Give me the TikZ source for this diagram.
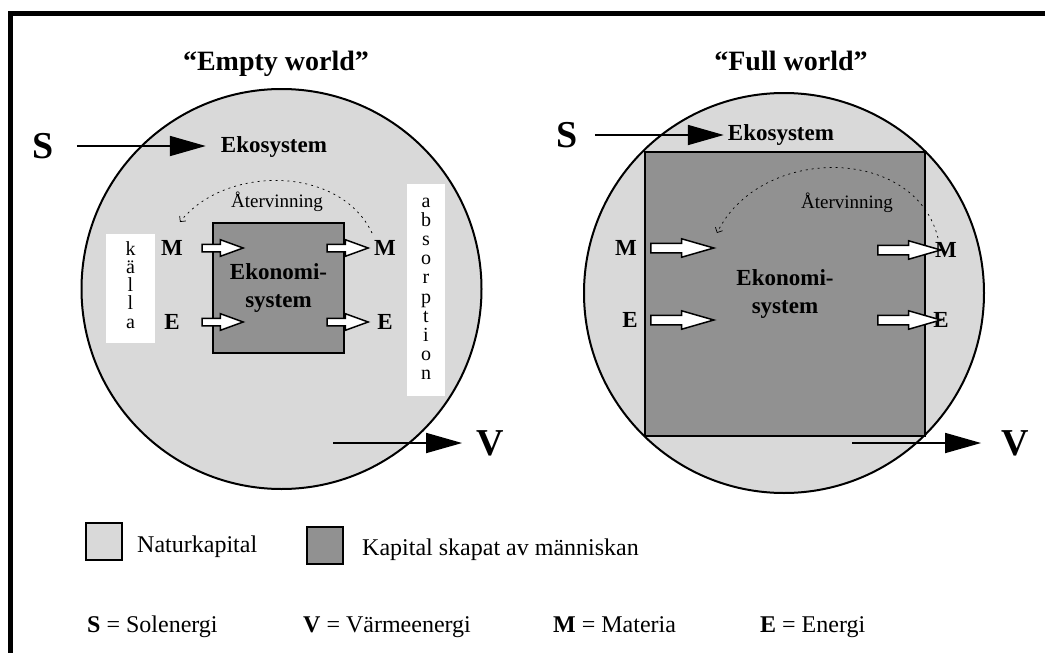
\documentclass[tikz,border=0pt]{standalone}
\usepackage{fontspec}
\setmainfont{Liberation Serif}
\usetikzlibrary{arrows.meta,shapes.arrows}

\definecolor{naturgray}{gray}{0.85}
\definecolor{kapitalgray}{gray}{0.57}

\tikzset{
  bigletter/.style={font=\fontsize{38}{38}\selectfont\bfseries, inner sep=0pt},
  boldlabel/.style={font=\fontsize{23}{28}\selectfont\bfseries, inner sep=0pt, align=center},
  worldtitle/.style={font=\fontsize{28}{30}\selectfont\bfseries, inner sep=0pt, anchor=base},
  plaintext/.style={font=\fontsize{24}{26}\selectfont, inner sep=0pt, anchor=base west},
  recyclelabel/.style={font=\fontsize{19}{20}\selectfont, inner sep=0pt, anchor=base},
  world/.style={circle, draw, line width=2pt, fill=naturgray, minimum size=400pt, inner sep=0pt},
  economy/.style={draw, line width=2pt, fill=kapitalgray, inner sep=0pt,
    font=\fontsize{23}{28}\selectfont\bfseries, align=center},
  flow/.style={line width=1.8pt, -{Triangle[length=36pt,width=20pt]}},
  hollow/.style={single arrow, draw, fill=white, line width=1.5pt, inner sep=3pt,
    single arrow head extend=4.5pt, single arrow tip angle=40, minimum height=41pt},
  hollowbig/.style={hollow, inner sep=4pt, single arrow tip angle=32, minimum height=63pt},
  recycle/.style={line width=0.7pt, dash pattern=on 2pt off 4pt,
    -{Straight Barb[length=4pt,width=8pt]}},
  letterbox/.style={fill=white, inner sep=0pt},
  boxletter/.style={font=\fontsize{20}{20}\selectfont, inner sep=0pt, anchor=base},
  legendbox/.style={draw, line width=2pt, minimum width=36pt, minimum height=37pt, inner sep=0pt},
}

\begin{document}
\begin{tikzpicture}[x=1pt, y=-1pt]
\useasboundingbox (0,0) rectangle (1045,653);

% frame
\draw[line width=5pt] (10,700) -- (10,13.5) -- (1100,13.5);

% titles
\node[worldtitle] (emptyT) at (276,70) {``Empty world''};
\node[worldtitle] (fullT) at (791,70) {``Full world''};

% empty world
\node[world] (worldL) at (281.5,289) {};
\node[economy, minimum width=131pt, minimum height=130pt] (econL) at (278.5,288) {Ekonomi-\\system};

% source and sink, one letter per line
\node[letterbox, minimum width=49pt, minimum height=109pt] (kallaBox) at (130.5,288.5) {};
\foreach \ch [count=\i] in {k,ä,l,l,a}
  \node[boxletter] (kalla\i) at (130.5,{255+18.25*(\i-1)}) {\ch};
\node[letterbox, minimum width=38pt, minimum height=212pt] (absBox) at (426,290) {};
\foreach \ch [count=\i] in {a,b,s,o,r,p,t,i,o,n}
  \node[boxletter] (abs\i) at (426,{207+19.2*(\i-1)}) {\ch};

\node[boldlabel] (mInL) at (172,248) {M};
\node[boldlabel] (eInL) at (172,322) {E};
\node[boldlabel] (mOutL) at (385,248) {M};
\node[boldlabel] (eOutL) at (385,322) {E};
\node[hollow] (mArrInL) at (217.5,248) {};
\node[hollow] (eArrInL) at (217.5,322) {};
\node[hollow] (mArrOutL) at (342.5,248) {};
\node[hollow] (eArrOutL) at (342.5,322) {};

\node[recyclelabel] (recTL) at (277,207) {Återvinning};
\coordinate (recL0) at (372,233);
\coordinate (recL1) at (180,222);
\draw[recycle] (recL0) .. controls (340,165) and (225,165) .. (recL1);

\node[bigletter] (sL) at (43,146) {S};
\node[boldlabel, anchor=base] (ekoL) at (274,152) {Ekosystem};
\draw[flow, shorten <=23pt, shorten >=15pt] (sL.east) -- (sL.east -| ekoL.west);

\coordinate (vL0) at (333,443);
\node[bigletter] (vL) at (490,443) {V};
\draw[flow, shorten >=14pt] (vL0) -- (vL.west);

% full world
\node[world] (worldR) at (784,293) {};
\node[economy, minimum width=280pt, minimum height=284pt] (econR) at (785,294) {Ekonomi-\\system};

\node[boldlabel] (mInR) at (626,248) {M};
\node[boldlabel] (eInR) at (630,320) {E};
\node[boldlabel] (mOutR) at (946,250) {M};
\node[boldlabel] (eOutR) at (941,320) {E};
\node[hollowbig] (mArrInR) at (674,248) {};
\node[hollowbig] (eArrInR) at (674,320) {};
\node[hollowbig] (mArrOutR) at (901,250) {};
\node[hollowbig] (eArrOutR) at (901,320) {};

\node[recyclelabel] (recTR) at (847,208) {Återvinning};
\coordinate (recR0) at (938,238);
\coordinate (recR1) at (717,233);
\draw[recycle] (recR0) .. controls (915,145) and (760,145) .. (recR1);

\node[bigletter] (sR) at (567,135) {S};
\node[boldlabel, anchor=base] (ekoR) at (781,140) {Ekosystem};
\draw[flow, shorten <=17pt, shorten >=4pt] (sR.east) -- (sR.east -| ekoR.west);

\coordinate (vR0) at (852,443);
\node[bigletter] (vR) at (1015,443) {V};
\draw[flow, shorten >=20pt] (vR0) -- (vR.west);

% legend
\node[legendbox, fill=naturgray] (natBox) at (104,541.5) {};
\node[plaintext] (natText) at (137,552) {Naturkapital};
\node[legendbox, fill=kapitalgray] (kapBox) at (325,545) {};
\node[plaintext] (kapText) at (362,555) {Kapital skapat av människan};

\node[plaintext] (keyS) at (87,632) {\textbf{S} = Solenergi};
\node[plaintext] (keyV) at (303,632) {\textbf{V} = Värmeenergi};
\node[plaintext] (keyM) at (553,632) {\textbf{M} = Materia};
\node[plaintext] (keyE) at (760,632) {\textbf{E} = Energi};
\end{tikzpicture}
\end{document}
